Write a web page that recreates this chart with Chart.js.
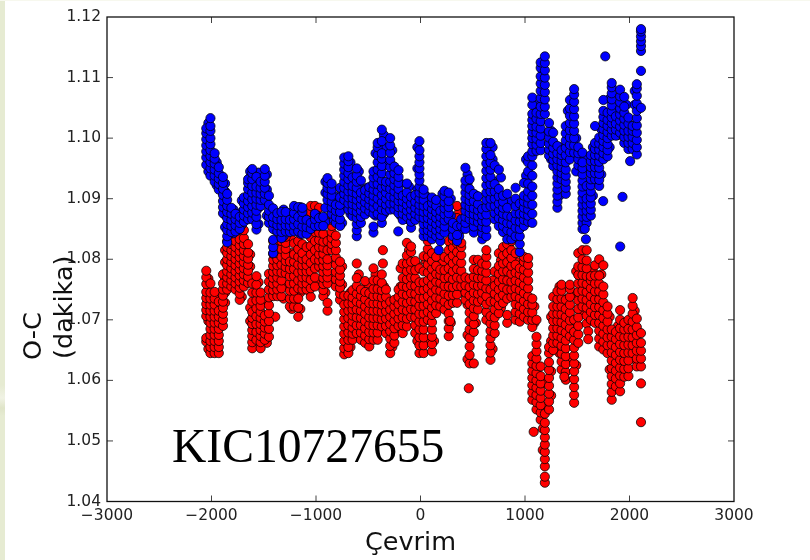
<!DOCTYPE html>
<html>
<head>
<meta charset="utf-8">
<title>KIC10727655</title>
<script src="https://cdn.jsdelivr.net/npm/chart.js@4/dist/chart.umd.min.js"></script>
<style>
    html, body { margin: 0; padding: 0; background: #fff; }
    #page { position: relative; width: 810px; height: 560px; overflow: hidden; }
    #strip { position: absolute; left: 0; top: 0; width: 5px; height: 560px;
        background: linear-gradient(180deg, #e6ebd2 0, #e6ebd2 385px, #f0f2e4 398px, #dfe4c8 408px, #e6ebd2 416px); }
    #topstrip { position: absolute; left: 0; top: 0; width: 810px; height: 1px; background: #f7f8ee; }
    canvas { position: absolute; left: 0; top: 0; }
</style>
</head>
<body>
<div id="page">
    <div id="strip"></div>
    <div id="topstrip"></div>
    <canvas id="myChart" width="810" height="560"></canvas>
</div>
<script>
// cycle columns shared by both series, one row of O-C readings per column
const cycles = [-2050,-2010,-1970,-1930,-1890,-1850,-1810,-1770,-1730,-1690,-1650,-1610,-1570,-1530,-1490,-1450,-1410,-1370,-1330,-1290,-1250,-1210,-1170,-1130,-1090,-1050,-1010,-970,-930,-890,-850,-810,-770,-730,-690,-650,-610,-570,-530,-490,-450,-410,-370,-330,-290,-250,-210,-170,-130,-90,-50,-10,30,70,110,150,190,230,270,310,350,390,430,470,510,550,590,630,670,710,750,790,830,870,910,950,990,1030,1070,1110,1150,1190,1230,1270,1310,1350,1390,1430,1470,1510,1550,1590,1630,1670,1710,1750,1790,1830,1870,1910,1950,1990,2030,2070,2110];

const blueOC = [
[1.0956,1.0968,1.0978,1.0988,1.0998,1.1008,1.1016],
[1.0938,1.095,1.096,1.097,1.098,1.099,1.1,1.1012,1.102,1.1033],
[1.0928,1.0938,1.0948,1.0958,1.0966,1.0975],
[1.0915,1.0924,1.0933,1.0942,1.0952],
[1.0876,1.0886,1.0896,1.0906,1.0916,1.0926,1.0936],
[1.0828,1.0838,1.0848,1.0858,1.0868,1.0878,1.0888,1.0898,1.0908],
[1.0845,1.0855,1.0865,1.0875,1.0885],
[1.0846,1.0856,1.0866,1.0875],
[1.085,1.086,1.087],
[1.0862,1.0872,1.0882,1.0892,1.0902],
[1.0866,1.0876,1.0886,1.0896,1.0906,1.0916,1.0926,1.0932],
[1.0866,1.0877,1.0888,1.0899,1.091,1.0921,1.0932,1.0942,1.0949],
[1.0849,1.0858,1.087,1.088,1.089,1.09,1.091,1.092,1.0936],
[1.0888,1.0898,1.0908,1.0918,1.0928],
[1.0898,1.0908,1.0918,1.0928,1.0938,1.0949],
[1.086,1.087,1.088,1.089,1.0905],
[1.081,1.082,1.0832,1.085,1.086,1.087,1.0884],
[1.0846,1.0856,1.0866,1.0876],
[1.0835,1.0845,1.0855,1.0865,1.0878],
[1.0846,1.0856,1.0866,1.0878],
[1.0845,1.0855,1.0865],
[1.0846,1.0856,1.0866,1.0876,1.0888],
[1.0846,1.0858,1.087,1.0886],
[1.0842,1.0854,1.0866,1.0878,1.0885],
[1.0842,1.0853,1.0865],
[1.085,1.086],
[1.0855,1.0866,1.0875],
[1.0855,1.0868],
[1.0855,1.087],
[1.0898,1.0908,1.0918,1.0926,1.0934],
[1.0875,1.0885,1.0895,1.0905,1.0915,1.0925],
[1.086,1.087,1.088,1.089],
[1.0855,1.0866,1.0878,1.089,1.0902,1.0918],
[1.0898,1.0908,1.0918,1.0928,1.0938,1.0948,1.0958,1.0968],
[1.0882,1.0892,1.0902,1.0912,1.0922,1.0932,1.0942,1.0952,1.0962,1.097],
[1.0871,1.0881,1.0891,1.0901,1.0911,1.0921,1.0935],
[1.0838,1.0848,1.0858,1.0868,1.0878,1.0888,1.0898,1.0908,1.0918,1.0928,1.0938,1.095],
[1.086,1.087,1.088,1.089,1.09,1.091,1.093],
[1.0874,1.0884,1.0894,1.0904,1.0914],
[1.0879,1.0889,1.0899,1.0909,1.0919],
[1.0844,1.0854,1.0875,1.0885,1.0895,1.0905,1.0915,1.0925,1.0935,1.0945],
[1.0875,1.0888,1.09,1.0912,1.0924,1.0936,1.0948,1.096,1.0972,1.0985,1.0992],
[1.086,1.087,1.0882,1.0894,1.0906,1.0918,1.093,1.0942,1.0954,1.0966,1.0975,1.0995,1.1014],
[1.088,1.089,1.09,1.091,1.092,1.0928],
[1.0882,1.0892,1.0904,1.0916,1.0928,1.094,1.0952,1.0964,1.0976,1.0988,1.1],
[1.0882,1.0892,1.0902,1.0912,1.0922,1.0932,1.0942,1.0953],
[1.0876,1.0886,1.0896,1.0906,1.0916,1.0926,1.0936,1.0947],
[1.0865,1.0875,1.0885,1.0895,1.0905],
[1.087,1.088,1.089,1.09,1.091,1.0925],
[1.0852,1.0862,1.0872,1.0882,1.0892,1.0903],
[1.0865,1.0875,1.0885,1.0895,1.0906],
[1.087,1.088,1.089,1.09,1.091,1.092,1.093,1.094,1.095,1.096,1.097,1.098,1.0995],
[1.0838,1.0848,1.0858,1.0868,1.0878,1.0888,1.0898,1.0908,1.0915],
[1.0838,1.0848,1.0858,1.0868,1.0878,1.0888],
[1.0833,1.0843,1.0853,1.0863,1.0873,1.0883,1.0893,1.0902],
[1.0838,1.0848,1.0858,1.0868,1.0878,1.0888,1.0898],
[1.083,1.084,1.085,1.086,1.087,1.088],
[1.0844,1.0854,1.0864,1.0874,1.0884,1.0894,1.0904,1.0913],
[1.0866,1.0876,1.0886,1.0896,1.091],
[1.0838,1.085,1.086],
[1.083,1.084,1.0855],
[1.0855,1.0866],
[1.085,1.086,1.087,1.088,1.089,1.09,1.091,1.092,1.093,1.0951],
[1.0866,1.0876,1.0886,1.0896,1.0906,1.0916,1.0932],
[1.0844,1.0854,1.0864,1.0874,1.0884,1.0896,1.0908],
[1.0861,1.0871,1.0881,1.0891,1.0904],
[1.0833,1.0843,1.0853,1.0863,1.0873,1.0883],
[1.0838,1.085,1.0862,1.0874,1.0886,1.0898,1.091,1.0922,1.0934,1.0946,1.0958,1.097,1.0982,1.0992],
[1.0888,1.09,1.0912,1.0924,1.0936,1.0948,1.096,1.0972,1.0992],
[1.0866,1.0876,1.0888,1.09,1.0912,1.0924,1.0955],
[1.0855,1.0868,1.088,1.0892,1.0904,1.0916,1.0948],
[1.0845,1.0855,1.0865,1.0875,1.0885,1.0895,1.0905],
[1.0833,1.0848,1.086,1.0872,1.0885,1.0908],
[1.0833,1.0845,1.0858,1.087],
[1.0838,1.0852,1.0864,1.0876,1.0888,1.09,1.0918],
[1.0812,1.0825,1.0838,1.085,1.0862,1.0875,1.0892],
[1.0855,1.0865,1.0875,1.0885,1.0895,1.0905,1.0926],
[1.0862,1.0872,1.0882,1.0892,1.0902,1.0912,1.0925,1.0945,1.096,1.097],
[1.086,1.0875,1.089,1.0905,1.092,1.0938,1.0955,1.097,1.0978,1.099,1.1,1.101,1.102,1.103,1.104,1.1055,1.1067],
[1.0979,1.0989,1.0999,1.1009,1.1019,1.1032,1.1042],
[1.098,1.0992,1.1004,1.1016,1.1028,1.104,1.1052,1.1066,1.1078,1.109,1.1102,1.1116,1.1125],
[1.104,1.1052,1.1064,1.1076,1.1088,1.11,1.1112,1.1124,1.1135],
[1.0971,1.0981,1.0991,1.1001,1.1011,1.1025],
[1.0954,1.0964,1.0974,1.0984,1.0994,1.1009],
[1.0885,1.0895,1.0905,1.0915,1.0925,1.0935,1.0945,1.0955,1.0965,1.0975,1.0987],
[1.0932,1.0942,1.0952,1.0962,1.0972,1.098],
[1.0908,1.0918,1.0928,1.0938,1.0948,1.096,1.0972,1.0984,1.0996,1.1008,1.102],
[1.0965,1.0977,1.0989,1.1001,1.1013,1.1025,1.1037,1.1049,1.1063],
[1.0976,1.0988,1.1,1.1012,1.1024,1.1036,1.1048,1.106,1.1072,1.1081],
[1.0955,1.0965,1.0975,1.0985],
[1.085,1.086,1.087,1.088,1.089,1.09,1.091,1.092,1.093,1.094,1.095,1.096,1.0976],
[1.086,1.087,1.088,1.089,1.09,1.0921],
[1.0872,1.0882,1.0892,1.0902,1.0912,1.0922,1.0932,1.0942,1.0952,1.0962,1.0972],
[1.0932,1.0942,1.0952,1.0962,1.0972,1.0982,1.0992,1.102],
[1.0921,1.0931,1.0941,1.0951,1.0961,1.0971,1.0981,1.0991,1.1001],
[1.0965,1.0975,1.0985,1.0995,1.1005,1.1015,1.1025,1.1035,1.1045,1.1063],
[1.097,1.098,1.099,1.1,1.101,1.102,1.103,1.1042],
[1.1004,1.1014,1.1024,1.1034,1.1044,1.1054,1.1064,1.1074,1.1084,1.1091],
[1.1004,1.1014,1.1024,1.1036],
[1.1009,1.1019,1.1029,1.1039,1.1049,1.1059,1.1069,1.108],
[1.0992,1.1002,1.1012,1.1022,1.1032,1.1042,1.1052,1.1068],
[1.0982,1.0992,1.1002,1.1012,1.1024,1.1034],
[1.0982,1.0992,1.1002,1.1012,1.102],
[1.0973,1.0985,1.0997,1.1009,1.1021,1.1033,1.1045,1.1057,1.107,1.1082,1.1089],
[1.105,1.1111,1.1144,1.1152,1.116,1.1168,1.1176,1.118]
];

const redOC = [
[1.0664,1.067,1.0706,1.0716,1.0726,1.0736,1.0746,1.0759,1.077,1.0781],
[1.0645,1.0655,1.0665,1.0675,1.0685,1.0695,1.0705,1.0715,1.0725,1.0735,1.0745,1.076],
[1.0645,1.0655,1.0665,1.0675,1.0685,1.0695,1.0705,1.0715,1.0725,1.0735,1.0746],
[1.0645,1.0655,1.0665,1.0675,1.0685,1.0695,1.0705,1.0715,1.073],
[1.069,1.07,1.071,1.072,1.073,1.074,1.075,1.076,1.0775],
[1.075,1.076,1.077,1.078,1.079,1.08,1.081,1.082,1.083],
[1.0755,1.0765,1.0775,1.0785,1.0795,1.0805,1.0815,1.0825,1.0835,1.085,1.0865,1.0878],
[1.075,1.076,1.077,1.078,1.079,1.08,1.081,1.082,1.083,1.0845,1.0858],
[1.0733,1.0743,1.0753,1.0763,1.0773,1.0783,1.0793,1.0803,1.0813,1.0823,1.0833],
[1.0755,1.0765,1.0775,1.0785,1.0795,1.0805,1.0815,1.0825,1.0835,1.0848],
[1.0761,1.0771,1.0781,1.0791,1.0801,1.0811,1.0825],
[1.0653,1.0663,1.0673,1.0683,1.0693,1.0703,1.0713,1.073,1.0745,1.076],
[1.0667,1.068,1.0693,1.0706,1.0719,1.0732,1.0745,1.0758,1.0772],
[1.0653,1.0663,1.0673,1.0683,1.0693,1.0703,1.0713,1.0723,1.0733,1.0745],
[1.0667,1.0677,1.0687,1.0697,1.0707],
[1.0672,1.0685,1.0698,1.0711,1.0724,1.0737,1.075,1.0763,1.0776],
[1.0739,1.0749,1.0759,1.0769,1.0779,1.0789,1.0799,1.0809,1.083],
[1.0739,1.075,1.076,1.077,1.078,1.079,1.08,1.081,1.0825,1.0832],
[1.0739,1.0752,1.0765,1.0778,1.0791,1.0804,1.0817,1.083],
[1.0777,1.0787,1.0797,1.0807,1.0817,1.0827,1.0837],
[1.0722,1.0735,1.0748,1.076,1.0772,1.0784,1.0796],
[1.0722,1.0735,1.0748,1.076,1.0772,1.0784,1.0796,1.0808,1.0826],
[1.0705,1.072,1.0735,1.0752,1.0765,1.0778,1.0791,1.0804,1.0817,1.083],
[1.075,1.076,1.077,1.078,1.079,1.08,1.081,1.0825],
[1.075,1.076,1.077,1.078,1.079,1.08,1.082],
[1.0738,1.0752,1.0766,1.078,1.0794,1.0808,1.0822,1.0836,1.085,1.0864,1.0878,1.0888],
[1.0755,1.077,1.0785,1.08,1.0815,1.083,1.0845,1.086,1.0875,1.0888],
[1.0788,1.0798,1.0808,1.082,1.0832,1.0844,1.0856,1.0868,1.0885],
[1.0739,1.0749,1.0759,1.0769,1.0779,1.0789,1.0799,1.0809,1.0819,1.0829,1.0842],
[1.0715,1.0728,1.076,1.077,1.078,1.079,1.08,1.0815,1.083],
[1.0815,1.0825,1.0835,1.0845,1.0855,1.0865,1.0875,1.0885,1.0895,1.0905,1.0915],
[1.0755,1.0767,1.0779,1.0791,1.0803,1.0815,1.0827,1.0839,1.0865],
[1.0733,1.0743,1.0753,1.0763,1.0773,1.0783,1.0796],
[1.0643,1.0653,1.0665,1.0677,1.0689,1.0701,1.0713,1.0725,1.074],
[1.0645,1.0655,1.0667,1.0679,1.0691,1.0703,1.0715,1.0727,1.074],
[1.0667,1.0677,1.0687,1.0697,1.0707,1.0717,1.0727,1.0737,1.0749],
[1.0678,1.0691,1.0704,1.0717,1.073,1.0743,1.0756,1.0769,1.0793],
[1.0667,1.0679,1.0691,1.0703,1.0715,1.0727,1.0739,1.075],
[1.0662,1.0674,1.0686,1.0698,1.071,1.0722,1.0734,1.0746,1.0764],
[1.0656,1.0668,1.068,1.0692,1.0704,1.0716,1.0728,1.0744],
[1.0667,1.0679,1.0691,1.0703,1.0715,1.0727,1.0739,1.0751,1.0765,1.0785],
[1.0667,1.0679,1.0691,1.0703,1.0715,1.0727,1.0739,1.0751,1.0765],
[1.0689,1.0701,1.0713,1.0725,1.0737,1.0749,1.0761,1.0775],
[1.0678,1.069,1.0702,1.0714,1.0726,1.0738,1.075],
[1.0645,1.0657,1.0669,1.0681,1.0693,1.0705,1.0717,1.073],
[1.0662,1.0674,1.0686,1.0698,1.071,1.0722,1.0733],
[1.069,1.0702,1.0714,1.0726,1.0738,1.075],
[1.0678,1.0691,1.0704,1.0717,1.073,1.0743,1.0756,1.0769,1.0793],
[1.0689,1.0702,1.0715,1.0728,1.0741,1.0754,1.0767,1.078,1.0793,1.0806,1.0827],
[1.0705,1.0718,1.0731,1.0744,1.0757,1.077,1.0783,1.0796,1.0812,1.0821],
[1.0678,1.0691,1.0704,1.0717,1.073,1.0743,1.0756,1.0769,1.0782,1.0797],
[1.0645,1.0658,1.0671,1.0684,1.0697,1.071,1.0723,1.0736,1.0749,1.0762,1.0785],
[1.0645,1.0658,1.0671,1.0684,1.0697,1.071,1.0723,1.0736,1.0749,1.0762,1.078,1.0805],
[1.07,1.0713,1.0726,1.0739,1.0752,1.0765,1.0778,1.0791,1.0804,1.0817,1.083],
[1.0648,1.066,1.0672,1.0684,1.0696,1.0708,1.072,1.0732,1.0745,1.0758,1.0771,1.0784,1.0797,1.081],
[1.0711,1.0724,1.0737,1.075,1.0763,1.0776,1.0789,1.0804],
[1.0722,1.0735,1.0748,1.0761,1.0774,1.0783],
[1.0717,1.073,1.0743,1.0756,1.0769,1.0782,1.0804],
[1.0673,1.0686,1.0698,1.071,1.0725,1.074,1.0755,1.077,1.0785,1.08,1.0815,1.083],
[1.0728,1.0741,1.0754,1.0767,1.078,1.0793,1.0806,1.0819,1.0832,1.0843],
[1.0728,1.0742,1.0756,1.077,1.0784,1.0798,1.0812,1.0826,1.084,1.0854,1.0868,1.0888],
[1.0755,1.0768,1.0781,1.0794,1.0807,1.082,1.0827],
[1.0733,1.0745,1.0757,1.077],
[1.0628,1.0642,1.0656,1.067,1.0684,1.0698,1.0712,1.0726,1.074,1.0754,1.0768],
[1.0628,1.068,1.0693,1.0706,1.0719,1.0732,1.0745,1.0758,1.0771,1.0784,1.0799],
[1.0717,1.073,1.0743,1.0756,1.0769,1.0782,1.0799],
[1.0733,1.0745,1.0757,1.0769,1.0781,1.0793],
[1.07,1.0713,1.0726,1.0739,1.0752,1.0765,1.0778,1.0791,1.0804,1.0815],
[1.0634,1.0646,1.0658,1.067,1.0682,1.0694,1.0706,1.073,1.075],
[1.0678,1.0691,1.0704,1.0717,1.073,1.0743,1.0756,1.078],
[1.0711,1.0724,1.0737,1.075,1.0763,1.0776,1.0789,1.081],
[1.0728,1.0741,1.0754,1.0767,1.078,1.0793,1.0806,1.082],
[1.0695,1.0708,1.0735,1.075,1.0765,1.078,1.0795,1.081,1.0825,1.084,1.0858],
[1.0738,1.075,1.0763,1.0776,1.0789,1.0802,1.0815,1.083],
[1.07,1.0713,1.0726,1.0739,1.0752,1.0765,1.0778,1.0791,1.081],
[1.0697,1.071,1.0723,1.0736,1.0749,1.0762,1.0775,1.0785],
[1.0705,1.0718,1.0731,1.0744,1.0757,1.077,1.0783,1.0796,1.0804],
[1.07,1.0713,1.0726,1.0739,1.0752,1.0765,1.0778,1.0791,1.0802],
[1.0568,1.058,1.0592,1.0604,1.0616,1.0628,1.064,1.0688,1.07,1.0712,1.0725,1.0735],
[1.0552,1.0564,1.0576,1.0588,1.06,1.0612,1.0624,1.0636,1.0648,1.066,1.0672,1.07],
[1.0535,1.0547,1.0559,1.0571,1.0583,1.0595,1.0607,1.0623],
[1.0431,1.0441,1.0458,1.047,1.0482,1.0494,1.0506,1.0518,1.053,1.0545],
[1.0552,1.0565,1.0578,1.0591,1.0604,1.0617,1.063,1.0645,1.0655],
[1.065,1.0662,1.0674,1.0686,1.0698,1.071,1.0722,1.0738],
[1.0662,1.0674,1.0686,1.0698,1.071,1.0722,1.0734,1.0747],
[1.0618,1.0631,1.0644,1.0657,1.067,1.0683,1.0696,1.0709,1.0722,1.0735,1.0748,1.0758],
[1.0601,1.0614,1.0627,1.064,1.0653,1.0666,1.0679,1.0692,1.0705,1.0718,1.0733],
[1.0673,1.0686,1.0699,1.0712,1.0725,1.0738,1.0751,1.0758],
[1.0563,1.0576,1.0589,1.0602,1.0615,1.0628,1.0641,1.0654,1.0667,1.068,1.07],
[1.0662,1.0676,1.069,1.0704,1.0718,1.0732,1.0746,1.076,1.0774,1.0788,1.081],
[1.0722,1.0735,1.0748,1.0761,1.0774,1.0787,1.08,1.0815],
[1.0694,1.0707,1.072,1.0733,1.0746,1.0759,1.0772,1.0785,1.0798,1.0815],
[1.07,1.0713,1.0726,1.0739,1.0752,1.0765,1.0772],
[1.0695,1.0708,1.0721,1.0734,1.0747,1.076,1.0773,1.079],
[1.0656,1.0669,1.0682,1.0695,1.0708,1.0721,1.0734,1.0747,1.076,1.0773,1.08],
[1.0651,1.0664,1.0677,1.069,1.0703,1.0716,1.0729,1.0742,1.0755,1.079],
[1.0645,1.0658,1.0671,1.0684,1.0697,1.071,1.0722],
[1.0568,1.0581,1.0594,1.0607,1.062,1.0633,1.0646,1.0659,1.0672,1.0684],
[1.059,1.0603,1.0616,1.0629,1.0642,1.0655,1.0668,1.068],
[1.0582,1.0595,1.0608,1.0621,1.0634,1.0647,1.066,1.0673,1.0686,1.07,1.0716],
[1.0606,1.0619,1.0632,1.0645,1.0658,1.0671,1.0684,1.0695],
[1.0607,1.062,1.0633,1.0646,1.0659,1.0672,1.0685,1.07],
[1.0645,1.0658,1.0671,1.0684,1.0697,1.071,1.0723,1.0736],
[1.0623,1.0636,1.0649,1.0662,1.0675,1.0688,1.0702],
[1.0623,1.0636,1.0649,1.0662,1.0678]
];

// in-between columns
const midCycles = [-2030,-1950,-1870,-1790,-1710,-1630,-1550,-1470,-1390,-1310,-1230,-1150,-1070,-990,-910,-830,-750,-670,-590,-510,-430,-350,-270,-190,-110,-30,50,130,210,290,370,450,530,610,690,770,850,930,1010,1090,1170,1250,1330,1410,1490,1570,1650,1730,1810,1890,1970,2050];

const blueMidOC = [
[1.0945,1.0973,1.0995,1.1006,1.1025],[1.0922,1.0935,1.0945,1.096],[1.0853,1.0873,1.0893,1.0912,1.0925],[1.0843,1.0862,1.0882],
[1.0857,1.0878,1.0897],[1.0868,1.0892,1.0912,1.0935,1.0945],[1.0858,1.0885,1.0905,1.0925,1.0943],[1.0872,1.0894,1.0915,1.094],
[1.0848,1.0862,1.0876],[1.0838,1.0852,1.0868,1.0882],[1.0848,1.0862,1.0878],[1.0842,1.0858,1.0875,1.0886],
[1.0848,1.0862],[1.0856,1.0872],[1.0862,1.0885,1.091,1.0928],[1.0865,1.0885,1.0905],
[1.086,1.0885,1.091],[1.0875,1.0905,1.0935,1.096],[1.0865,1.0895,1.0925,1.0945],[1.0885,1.0905,1.0918],
[1.0872,1.0905,1.0942,1.0975],[1.0875,1.0912,1.0955,1.0985,1.1005],[1.0885,1.092,1.0955,1.098],[1.0872,1.09,1.0925],
[1.0865,1.0895,1.092],[1.0875,1.0915,1.095,1.0985],[1.0843,1.0873,1.0905],[1.0842,1.0868,1.0895],
[1.0848,1.088,1.0908],[1.0845,1.0872,1.09],[1.0838,1.0848],[1.0858,1.0895,1.0925,1.094],
[1.0855,1.0885,1.0905],[1.0848,1.0878],[1.0895,1.093,1.0965,1.0985],[1.0872,1.0905,1.0935],
[1.0842,1.0868,1.0895],[1.0835,1.0865,1.0895],[1.087,1.0905,1.0938,1.0965],[1.0978,1.1005,1.1035,1.1055],
[1.1005,1.1045,1.1085,1.1125],[1.0965,1.0985,1.1012],[1.0905,1.0945,1.0985],[1.0975,1.1015,1.1045],
[1.0945,1.097,1.1],[1.0865,1.0905,1.0945,1.097],[1.0905,1.0945,1.0985],[1.094,1.098,1.1015],
[1.0985,1.1025,1.1065],[1.1005,1.102,1.105],[1.0995,1.103,1.1055],[1.0985,1.102,1.1055,1.1078]
];

const redMidOC = [
[1.0652,1.0668,1.0698,1.0722,1.0768],[1.0652,1.068,1.0702,1.0728,1.074],[1.0728,1.0745,1.0768,1.0795,1.0815],[1.0757,1.0778,1.0808,1.0838,1.0868],
[1.0738,1.0768,1.0798,1.0828,1.0841],[1.0698,1.072,1.0766,1.0788,1.0808],[1.0658,1.0678,1.0698,1.0738,1.0762],[1.0662,1.0682,1.0702,1.0728],
[1.0705,1.0742,1.0772,1.0802,1.0822],[1.0735,1.0758,1.0785,1.0812,1.0835],[1.0718,1.0742,1.0778,1.081,1.0832],[1.0718,1.0745,1.0772,1.0798,1.0822],
[1.0748,1.0775,1.0805,1.0842,1.0872],[1.0762,1.0798,1.0835,1.0866,1.0882],[1.0745,1.0775,1.0805,1.0835],[1.0768,1.0798,1.083,1.0865,1.0895],
[1.0738,1.0758,1.0788],[1.0655,1.0685,1.072,1.0745],[1.0672,1.0705,1.074,1.0775],[1.0665,1.07,1.0735,1.076],
[1.0672,1.0705,1.0745,1.0775],[1.0685,1.072,1.0755],[1.0655,1.0688,1.0722],[1.0685,1.0722,1.0755,1.0785],
[1.0712,1.0748,1.0785,1.0815],[1.0665,1.0705,1.075,1.079],[1.0662,1.0705,1.0755,1.0798],[1.0665,1.0715,1.076,1.0795],
[1.0725,1.0755,1.0795],[1.0695,1.074,1.0785,1.0825],[1.0745,1.0795,1.0845,1.0878],[1.0635,1.0675,1.0725,1.0762],
[1.0695,1.074,1.0775],[1.074,1.0775,1.0795],[1.0652,1.0695,1.0735,1.0765],[1.072,1.0758,1.0798],
[1.0745,1.0785,1.0825],[1.0715,1.0755,1.0795],[1.0712,1.0748,1.0785],[1.0585,1.0625,1.0695,1.0722],
[1.0485,1.052,1.0555,1.0595],[1.0575,1.0615,1.0665,1.0705],[1.0645,1.0685,1.0725,1.0755],[1.0635,1.0685,1.0735],
[1.0625,1.069,1.074,1.078],[1.071,1.0755,1.0795],[1.0708,1.0745,1.078],[1.0675,1.0725,1.0775],
[1.0618,1.0665,1.0705],[1.0605,1.0648,1.069],[1.0615,1.066,1.069],[1.0635,1.068,1.0715]
];

// lone points that sit away from the columns
const blueLoneCycles = [1768,1933,1911,1748,2006,175,-213,1583,1572];
const blueLoneOC = [1.1135,1.0903,1.0821,1.0896,1.0962,1.0815,1.0846,1.0833,1.085];
const redLoneCycles = [-360,-360,462,1605,1605,1083,283,1376,935,2110,2110];
const redLoneOC = [1.0815,1.0793,1.0587,1.0681,1.0668,1.0515,1.0698,1.0606,1.0846,1.0595,1.0531];

const xTicks = [-3000,-2000,-1000,0,1000,2000,3000];
const yTicks = [1.04,1.05,1.06,1.07,1.08,1.09,1.10,1.11,1.12];

function toPoints(rows, midRows, loneCycles, loneOC) {
    let pts = [];
    midCycles.forEach((c, i) => midRows[i].forEach(v => pts.push({ x: c, y: v })));
    cycles.forEach((c, i) => rows[i].forEach(v => pts.push({ x: c, y: v })));
    loneCycles.forEach((c, i) => pts.push({ x: c, y: loneOC[i] }));
    return pts;
}

// box with inward ticks on all four sides, plus the free-standing labels
const frame = {
    id: 'frame',
    afterDraw(chart) {
        const ctx = chart.ctx, a = chart.chartArea;
        const xs = chart.scales.x, ys = chart.scales.y;
        ctx.save();
        ctx.strokeStyle = '#111';
        ctx.lineWidth = 1.3;
        ctx.strokeRect(a.left, a.top, a.right - a.left, a.bottom - a.top);
        ctx.lineWidth = 0.8;
        ctx.beginPath();
        xTicks.slice(1, -1).forEach(t => {
            let p = xs.getPixelForValue(t);
            ctx.moveTo(p, a.bottom); ctx.lineTo(p, a.bottom - 6);
            ctx.moveTo(p, a.top); ctx.lineTo(p, a.top + 6);
        });
        yTicks.slice(1, -1).forEach(t => {
            let p = ys.getPixelForValue(t);
            ctx.moveTo(a.left, p); ctx.lineTo(a.left + 6, p);
            ctx.moveTo(a.right, p); ctx.lineTo(a.right - 6, p);
        });
        ctx.stroke();

        ctx.fillStyle = '#000';
        ctx.textBaseline = 'alphabetic';
        ctx.textAlign = 'left';
        ctx.font = '47.6px "Liberation Serif"';
        ctx.fillText('KIC10727655', 172, 462);

        ctx.fillStyle = '#111';
        ctx.font = '25.5px "DejaVu Sans"';
        ctx.textAlign = 'center';
        ctx.fillText('Çevrim', 410.5, 550);

        ctx.textAlign = 'left';
        ctx.save();
        ctx.translate(41, 360);
        ctx.rotate(-Math.PI / 2);
        ctx.fillText('O-C', 0, 0);
        ctx.restore();
        ctx.save();
        ctx.translate(72, 359);
        ctx.rotate(-Math.PI / 2);
        ctx.fillText('(dakika)', 0, 0);
        ctx.restore();
        ctx.restore();
    }
};

document.addEventListener('DOMContentLoaded', function() {
    var ctx = document.getElementById('myChart').getContext('2d');
    var tickFont = { family: '"DejaVu Sans"', size: 15.5 };

    var myChart = new Chart(ctx, {
        type: 'scatter',
        data: {
            datasets: [{
                label: 'mavi',
                data: toPoints(blueOC, blueMidOC, blueLoneCycles, blueLoneOC),
                backgroundColor: '#0000ff',
                borderColor: 'rgba(0, 0, 0, 0.85)'
            }, {
                label: 'kırmızı',
                data: toPoints(redOC, redMidOC, redLoneCycles, redLoneOC),
                backgroundColor: '#ff0000',
                borderColor: 'rgba(0, 0, 0, 0.85)'
            }]
        },
        options: {
            responsive: false,
            animation: false,
            layout: { padding: { left: 0, right: 76, top: 17, bottom: 0 } },
            elements: { point: { radius: 4.6, borderWidth: 0.9 } },
            plugins: { legend: { display: false }, tooltip: { enabled: false } },
            scales: {
                x: {
                    type: 'linear',
                    min: -3000,
                    max: 3000,
                    afterFit: s => { s.height = 58.5; },
                    afterBuildTicks: s => { s.ticks = xTicks.map(v => ({ value: v })); },
                    grid: { display: false, drawTicks: false },
                    border: { display: false },
                    ticks: {
                        font: tickFont, color: '#222', padding: 5, maxRotation: 0, autoSkip: false,
                        callback: v => String(v).replace('-', '\u2212')
                    }
                },
                y: {
                    min: 1.04,
                    max: 1.12,
                    afterFit: s => { s.width = 107; },
                    afterBuildTicks: s => { s.ticks = yTicks.map(v => ({ value: v })); },
                    grid: { display: false, drawTicks: false },
                    border: { display: false },
                    ticks: {
                        font: tickFont, color: '#222', padding: 6, autoSkip: false,
                        callback: v => v.toFixed(2)
                    }
                }
            }
        },
        plugins: [frame]
    });
});
</script>
</body>
</html>
